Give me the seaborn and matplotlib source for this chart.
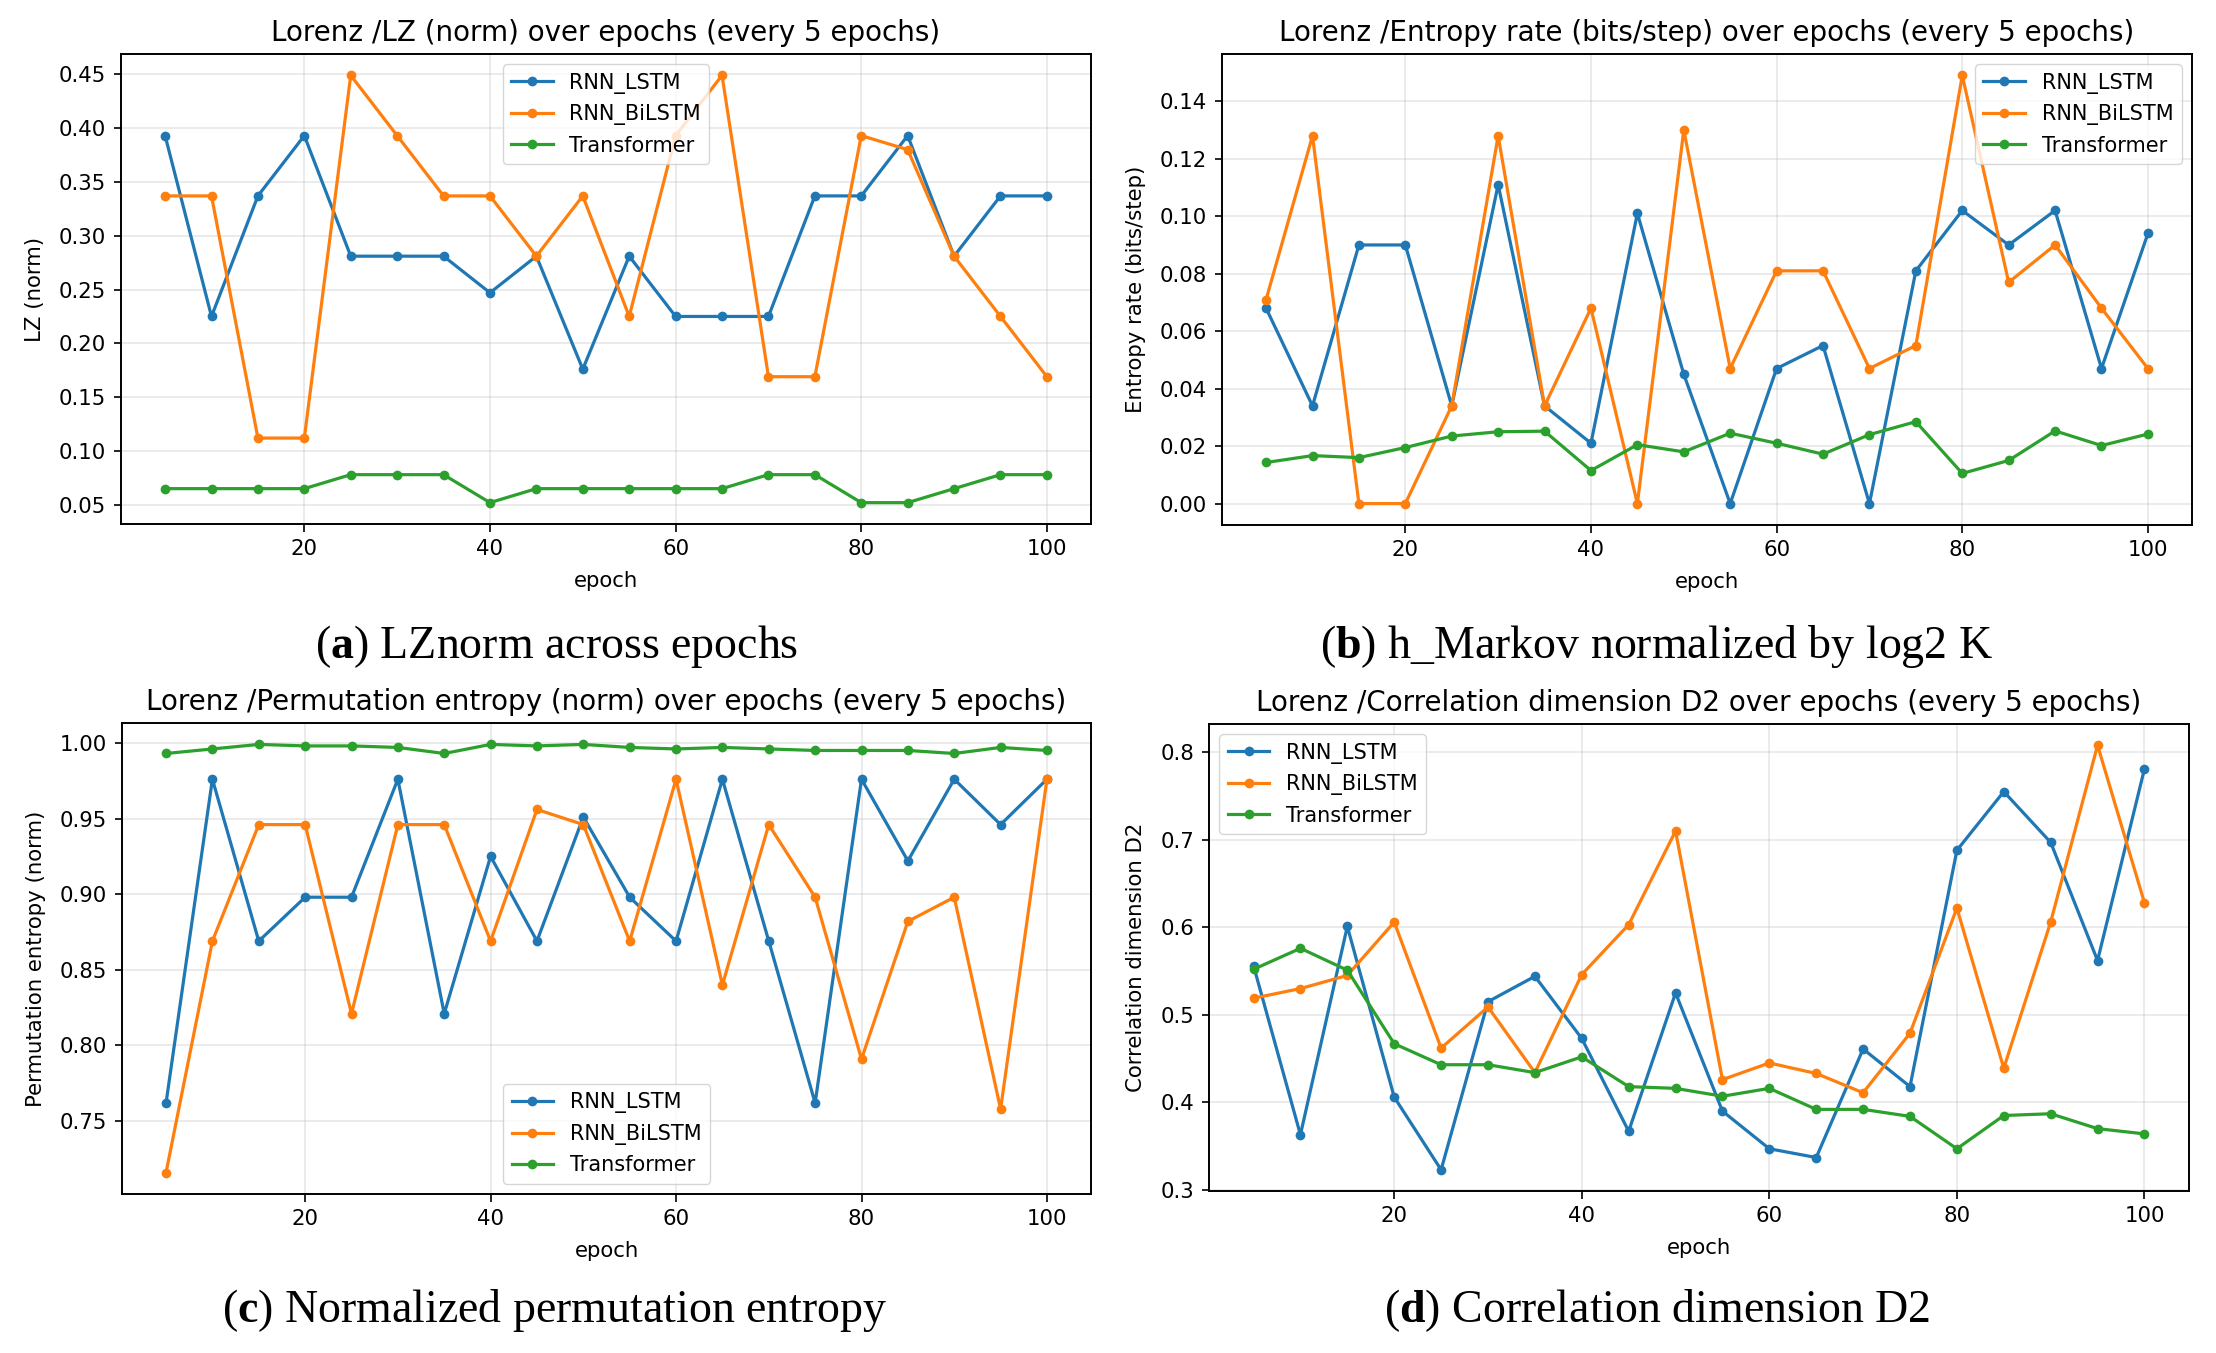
import matplotlib
matplotlib.use("Agg")
import matplotlib.pyplot as plt
import pandas as pd
import seaborn as sns

epochs = list(range(5, 105, 5))
models = ["RNN_LSTM", "RNN_BiLSTM", "Transformer"]

# (a) LZ (norm)
lz_lstm = [0.393, 0.225, 0.337, 0.393, 0.281, 0.281, 0.281, 0.247, 0.281, 0.176,
           0.281, 0.225, 0.225, 0.225, 0.337, 0.337, 0.393, 0.281, 0.337, 0.337]
lz_bilstm = [0.337, 0.337, 0.112, 0.112, 0.449, 0.393, 0.337, 0.337, 0.281, 0.337,
             0.225, 0.393, 0.449, 0.169, 0.169, 0.393, 0.380, 0.281, 0.225, 0.169]
lz_transformer = [0.065, 0.065, 0.065, 0.065, 0.078, 0.078, 0.078, 0.052, 0.065, 0.065,
                  0.065, 0.065, 0.065, 0.078, 0.078, 0.052, 0.052, 0.065, 0.078, 0.078]

# (b) Entropy rate (bits/step)
er_lstm = [0.068, 0.034, 0.090, 0.090, 0.034, 0.111, 0.034, 0.021, 0.101, 0.045,
           0.000, 0.047, 0.055, 0.000, 0.081, 0.102, 0.090, 0.102, 0.047, 0.094]
er_bilstm = [0.071, 0.128, 0.000, 0.000, 0.034, 0.128, 0.034, 0.068, 0.000, 0.130,
             0.047, 0.081, 0.081, 0.047, 0.055, 0.149, 0.077, 0.090, 0.068, 0.047]
er_transformer = [0.0143, 0.0167, 0.0160, 0.0195, 0.0235, 0.0250, 0.0252, 0.0115, 0.0205, 0.0180,
                  0.0245, 0.0210, 0.0172, 0.0240, 0.0285, 0.0105, 0.0150, 0.0253, 0.0202, 0.0242]

# (c) Permutation entropy (norm)
pe_lstm = [0.762, 0.976, 0.869, 0.898, 0.898, 0.976, 0.821, 0.925, 0.869, 0.951,
           0.898, 0.869, 0.976, 0.869, 0.762, 0.976, 0.922, 0.976, 0.946, 0.976]
pe_bilstm = [0.716, 0.869, 0.946, 0.946, 0.821, 0.946, 0.946, 0.869, 0.956, 0.946,
             0.869, 0.976, 0.840, 0.946, 0.898, 0.791, 0.882, 0.898, 0.758, 0.976]
pe_transformer = [0.993, 0.996, 0.999, 0.998, 0.998, 0.997, 0.993, 0.999, 0.998, 0.999,
                  0.997, 0.996, 0.997, 0.996, 0.995, 0.995, 0.995, 0.993, 0.997, 0.995]

# (d) Correlation dimension D2
d2_lstm = [0.556, 0.363, 0.601, 0.406, 0.323, 0.515, 0.544, 0.473, 0.367, 0.525,
           0.390, 0.347, 0.337, 0.461, 0.418, 0.688, 0.755, 0.697, 0.562, 0.781]
d2_bilstm = [0.519, 0.530, 0.545, 0.606, 0.462, 0.509, 0.434, 0.546, 0.603, 0.710,
             0.426, 0.445, 0.433, 0.411, 0.479, 0.622, 0.439, 0.606, 0.808, 0.628]
d2_transformer = [0.552, 0.576, 0.551, 0.467, 0.443, 0.443, 0.434, 0.452, 0.418, 0.416,
                  0.407, 0.416, 0.392, 0.392, 0.384, 0.347, 0.385, 0.387, 0.370, 0.364]

titles = [
    "Lorenz /LZ (norm) over epochs (every 5 epochs)",
    "Lorenz /Entropy rate (bits/step) over epochs (every 5 epochs)",
    "Lorenz /Permutation entropy (norm) over epochs (every 5 epochs)",
    "Lorenz /Correlation dimension D2 over epochs (every 5 epochs)",
]
ylabels = ["LZ (norm)", "Entropy rate (bits/step)",
           "Permutation entropy (norm)", "Correlation dimension D2"]
captions = [
    r"($\mathbf{a}$) LZnorm across epochs",
    r"($\mathbf{b}$) h_Markov normalized by log2 K",
    r"($\mathbf{c}$) Normalized permutation entropy",
    r"($\mathbf{d}$) Correlation dimension D2",
]
legend_locs = ["upper center", "upper right", "lower center", "upper left"]

series = [
    (lz_lstm, lz_bilstm, lz_transformer),
    (er_lstm, er_bilstm, er_transformer),
    (pe_lstm, pe_bilstm, pe_transformer),
    (d2_lstm, d2_bilstm, d2_transformer),
]

W, H = 2216, 1353
# axes boxes in pixels: left, top, right, bottom
boxes = [
    (121, 54, 1091, 524),
    (1222, 54, 2192, 525),
    (122, 723, 1091, 1194),
    (1209, 724, 2189, 1191),
]
caption_pos = [(557, 646), (1656, 646), (555, 1311), (1657, 1311)]

plt.rcParams["mathtext.fontset"] = "custom"
plt.rcParams["mathtext.rm"] = "Liberation Serif"
plt.rcParams["mathtext.bf"] = "Liberation Serif:bold"

fig = plt.figure(figsize=(W / 100, H / 100), dpi=100)
palette = ["#1f77b4", "#ff7f0e", "#2ca02c"]

for i in range(4):
    l, t, r, b = boxes[i]
    ax = fig.add_axes([l / W, 1 - b / H, (r - l) / W, (b - t) / H])
    df = pd.DataFrame({
        "epoch": epochs * 3,
        "value": list(series[i][0]) + list(series[i][1]) + list(series[i][2]),
        "model": [m for m in models for _ in epochs],
    })
    sns.lineplot(data=df, x="epoch", y="value", hue="model", hue_order=models,
                 palette=palette, marker="o", markersize=7, markeredgewidth=0,
                 linewidth=2.3, ax=ax)
    ax.set_title(titles[i], fontsize=20, pad=9.5)
    ax.set_xlabel("epoch", fontsize=15.3, labelpad=8.5)
    ax.set_ylabel(ylabels[i], fontsize=15.3, labelpad=10)
    ax.tick_params(labelsize=15.3, width=1.2, length=5.4, pad=5.4)
    ax.set_xticks([20, 40, 60, 80, 100])
    ax.grid(True, alpha=0.3, linewidth=1.2)
    for s in ax.spines.values():
        s.set_linewidth(1.4)
    ax.legend(loc=legend_locs[i], fontsize=15)
    cx, cy = caption_pos[i]
    fig.text(cx / W, 1 - cy / H, captions[i], ha="center", va="center",
             fontsize=33, family="Liberation Serif")

fig.savefig("out.png", dpi=100)
